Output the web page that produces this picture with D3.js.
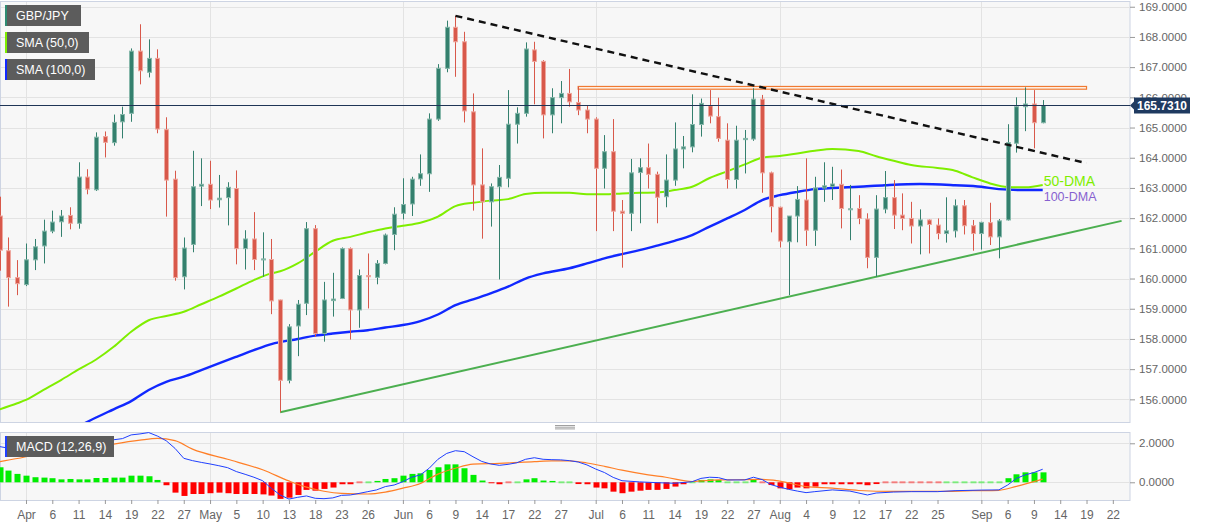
<!DOCTYPE html>
<html><head><meta charset="utf-8">
<script src="https://cdn.jsdelivr.net/npm/d3@7/dist/d3.min.js"></script>
<style>
html,body{margin:0;padding:0;background:#fff;}
svg{display:block;font-family:"Liberation Sans",Arial,sans-serif;}
</style></head><body>
<svg id="chart" width="1207" height="526"></svg>
<script>
// ---------------- DATA ----------------
const symbol = "GBP/JPY";
const firstCandle = "03-29";          // 2022
// daily OHLC from 2022-03-29 to 2022-09-12 (trading days)
const opens = [162.07,160.92,160.03,159.80,160.62,161.08,161.57,161.88,162.09,161.83,163.36,162.94,164.70,164.50,165.19,165.47,167.53,166.83,167.29,164.93,163.29,160.06,161.13,163.06,163.12,162.61,162.68,162.98,160.99,161.31,160.62,160.63,159.29,156.63,158.43,159.18,161.65,158.18,159.27,159.34,160.99,158.96,160.10,160.04,160.50,161.46,162.16,162.47,163.30,163.47,165.28,166.96,168.32,167.84,165.52,163.10,162.54,163.04,163.32,165.11,165.47,167.57,167.19,165.42,165.99,166.13,165.83,165.58,165.28,163.65,164.20,162.23,162.16,163.51,163.67,163.45,162.71,163.26,164.29,164.36,165.10,165.72,165.36,164.58,163.28,164.60,164.62,165.94,163.50,162.36,161.22,162.07,162.60,161.60,163.00,163.05,163.12,162.30,162.32,161.97,160.70,162.30,162.68,162.10,161.99,161.74,161.94,161.77,161.49,161.58,162.41,161.75,161.49,161.85,161.38,161.94,164.48,165.69,165.78,165.16];
const highs = [162.71,161.36,160.61,161.16,161.31,161.95,162.25,162.27,162.36,163.85,163.62,164.84,164.87,165.43,165.69,167.62,168.42,167.92,167.59,165.34,163.57,161.36,164.23,163.98,163.90,163.43,163.19,163.58,161.60,162.20,161.53,161.31,159.30,158.49,159.29,161.87,161.77,159.89,160.19,161.03,161.03,160.30,160.83,160.61,161.49,162.36,163.32,163.37,164.11,165.47,167.10,168.54,168.70,168.17,166.13,164.31,163.15,163.76,166.24,165.67,167.82,167.84,167.23,166.30,166.54,166.94,166.35,165.74,165.34,164.75,165.28,162.60,163.96,163.98,164.47,163.54,164.11,165.17,164.72,166.10,165.96,166.24,165.99,165.14,165.06,164.92,166.30,166.08,163.54,162.38,162.07,163.06,163.98,163.37,163.85,163.70,163.61,163.10,162.76,162.16,162.76,163.56,163.26,162.82,162.54,162.29,161.96,161.99,162.69,162.62,162.60,161.94,161.88,162.51,161.97,165.11,166.00,166.33,166.24,165.91];
const lows = [160.26,159.07,159.45,159.75,160.28,160.50,161.50,161.38,161.63,161.65,162.79,162.90,164.01,164.40,164.64,165.19,166.43,166.66,164.81,162.05,159.93,159.64,160.87,162.40,162.30,162.35,161.76,160.47,160.30,160.28,160.06,158.82,155.57,156.53,157.43,158.79,158.07,157.91,158.74,159.32,157.98,158.37,159.01,159.81,160.47,160.94,161.96,162.07,163.07,162.87,165.22,166.83,166.68,165.17,162.25,161.32,161.72,159.97,163.02,164.47,165.36,165.77,164.64,164.81,165.14,165.69,165.41,164.81,161.57,162.98,161.57,160.36,161.57,161.83,162.98,161.83,162.36,163.07,163.65,164.18,164.70,165.14,164.53,162.98,162.98,163.48,164.56,162.84,161.53,161.03,159.45,161.20,161.08,161.08,162.54,162.60,161.66,161.27,161.80,160.34,160.06,162.16,161.64,161.60,161.16,160.80,160.83,161.30,161.19,161.36,161.46,160.92,160.96,161.11,160.67,161.92,164.17,164.88,164.31,165.14];
const closes = [160.94,160.03,159.83,160.62,161.05,161.57,161.87,162.07,161.83,163.36,162.96,164.68,164.51,165.17,165.43,167.53,166.88,167.29,164.95,163.26,160.03,161.01,163.04,163.12,162.60,162.66,163.02,160.99,161.31,160.63,160.65,159.26,156.63,158.40,159.15,161.65,158.18,159.29,159.32,160.99,158.96,160.10,160.06,160.50,161.44,162.13,162.45,163.29,163.47,165.28,166.96,168.32,167.84,165.55,163.10,162.54,163.04,163.35,165.11,165.47,167.60,167.19,165.42,165.99,166.13,165.85,165.58,165.28,163.65,164.20,162.23,162.16,163.50,163.67,163.45,162.69,163.26,164.29,164.36,165.10,165.80,165.38,164.64,163.28,164.58,164.64,165.94,163.50,162.38,161.24,162.07,162.62,161.60,163.00,163.07,163.13,162.32,162.31,161.99,160.70,162.30,162.68,162.10,161.99,161.74,161.94,161.79,161.49,161.58,162.41,161.75,161.49,161.86,161.38,161.91,164.50,165.69,165.78,165.16,165.73];
const lastPrice = 165.7310;

// moving averages (date, value)
const sma50Dates = ["03-29","03-31","04-01","04-05","04-07","04-11","04-13","04-15","04-19","04-21","04-25","04-27","04-29","05-03","05-05","05-09","05-11","05-12","05-16","05-18","05-20","05-24","05-26","05-30","06-01","06-03","06-07","06-09","06-13","06-15","06-17","06-21","06-23","06-28","06-30","07-04","07-06","07-08","07-12","07-14","07-18","07-20","07-22","07-26","07-28","08-01","08-03","08-05","08-09","08-12","08-16","08-18","08-22","08-25","08-29","08-31","09-02","09-06","09-08","09-12"];
const sma50Values = [155.67,155.87,155.98,156.31,156.64,156.99,157.32,157.74,158.24,158.62,158.76,158.90,159.15,159.40,159.67,159.95,160.17,160.24,160.50,160.89,161.25,161.38,161.53,161.66,161.75,161.85,162.05,162.40,162.51,162.58,162.63,162.80,162.84,162.84,162.79,162.79,162.82,162.84,162.85,162.93,163.04,163.33,163.55,163.78,164.00,164.06,164.14,164.23,164.29,164.22,164.05,163.90,163.76,163.66,163.57,163.35,163.15,163.03,163.02,163.10];
const sma100Dates = ["04-08","04-13","04-15","04-19","04-21","04-25","04-27","04-29","05-03","05-05","05-09","05-11","05-16","05-18","05-20","05-24","05-26","05-30","06-01","06-03","06-07","06-09","06-13","06-15","06-17","06-21","06-23","06-28","06-30","07-04","07-06","07-08","07-12","07-14","07-18","07-20","07-22","07-26","07-28","08-01","08-03","08-05","08-09","08-12","08-17","08-23","08-29","09-01","09-05","09-08","09-12"];
const sma100Values = [154.95,155.40,155.67,155.94,156.31,156.58,156.75,156.97,157.19,157.41,157.63,157.83,158.00,158.11,158.18,158.24,158.29,158.38,158.46,158.59,158.81,159.12,159.31,159.51,159.73,160.00,160.17,160.34,160.50,160.67,160.81,160.94,161.09,161.25,161.44,161.72,161.99,162.27,162.60,162.76,162.87,162.96,163.00,163.04,163.09,163.13,163.09,163.04,162.96,162.93,162.93];

// drawn studies
const supportLine = {from:["05-12",155.57], to:["09-23",161.91]};
const resistanceLine = {from:["06-09",168.70], to:["09-19",163.82]};
const resistanceZone = {from:"06-29", to:"09-19", top:166.36, bottom:166.27};

// MACD (12,26,9)
const macdHist = [0.77,0.60,0.43,0.34,0.26,0.24,0.21,0.15,0.17,0.15,0.15,0.22,0.22,0.24,0.24,0.34,0.34,0.31,0.12,-0.15,-0.53,-0.70,-0.60,-0.60,-0.56,-0.53,-0.56,-0.60,-0.60,-0.60,-0.62,-0.68,-0.85,-0.79,-0.65,-0.39,-0.43,-0.34,-0.27,-0.10,-0.10,-0.03,0.02,0.07,0.17,0.21,0.34,0.43,0.46,0.63,0.77,0.92,0.92,0.72,0.38,0.09,-0.05,-0.10,-0.03,0.00,0.15,0.21,0.09,0.07,0.03,0.01,-0.09,-0.10,-0.27,-0.31,-0.48,-0.56,-0.48,-0.43,-0.39,-0.39,-0.34,-0.22,-0.10,0.03,0.12,0.15,0.12,0.02,0.00,0.02,0.12,-0.02,-0.14,-0.31,-0.36,-0.27,-0.31,-0.22,-0.10,-0.10,-0.10,-0.10,-0.10,-0.15,-0.09,-0.03,-0.03,-0.03,-0.03,-0.02,-0.02,-0.01,0.02,0.03,0.03,0.03,0.03,0.03,0.02,0.21,0.41,0.51,0.51,0.51];
const macdDates = ["03-29","03-30","03-31","04-01","04-05","04-07","04-11","04-13","04-15","04-18","04-19","04-20","04-21","04-22","04-25","04-26","04-27","04-28","04-29","05-02","05-03","05-04","05-05","05-06","05-09","05-10","05-11","05-12","05-13","05-16","05-17","05-18","05-19","05-20","05-23","05-24","05-25","05-26","05-27","05-30","05-31","06-01","06-02","06-03","06-06","06-07","06-08","06-09","06-10","06-13","06-14","06-15","06-16","06-17","06-20","06-21","06-22","06-23","06-24","06-27","06-28","06-29","06-30","07-01","07-04","07-05","07-06","07-08","07-12","07-14","07-18","07-19","07-20","07-21","07-22","07-26","07-27","07-28","07-29","08-01","08-02","08-03","08-04","08-05","08-09","08-11","08-15","08-16","08-18","08-22","08-25","08-29","09-01","09-05","09-06","09-07","09-08","09-09","09-12"];
const macdValues = [1.83,1.75,1.65,1.64,1.74,1.75,1.81,2.02,2.18,2.24,2.43,2.48,2.55,2.37,2.13,1.74,1.23,1.11,1.02,0.94,0.85,0.75,0.55,0.41,0.26,0.08,-0.31,-0.65,-0.86,-0.77,-0.70,-0.82,-0.84,-0.80,-0.67,-0.65,-0.57,-0.48,-0.39,-0.22,-0.14,0.03,0.26,0.38,0.72,1.18,1.48,1.62,1.57,1.31,1.07,0.94,0.87,0.92,1.00,1.18,1.26,1.18,1.16,1.15,1.11,1.04,0.89,0.68,0.50,0.25,0.08,0.02,-0.02,-0.05,0.03,0.20,0.26,0.24,0.12,0.12,0.26,0.14,-0.12,-0.25,-0.36,-0.45,-0.53,-0.48,-0.39,-0.45,-0.65,-0.55,-0.50,-0.48,-0.48,-0.43,-0.40,-0.39,-0.14,0.20,0.38,0.50,0.67];
const signalDates = ["03-29","03-31","04-04","04-07","04-11","04-13","04-15","04-20","04-22","04-26","04-28","05-04","05-10","05-13","05-17","05-19","05-23","05-26","05-30","06-01","06-03","06-07","06-09","06-13","06-16","06-22","06-24","06-28","06-30","07-04","07-06","07-11","07-13","07-18","07-21","07-25","07-28","08-01","08-04","08-09","08-12","08-18","08-25","08-31","09-05","09-07","09-12"];
const signalValues = [1.06,1.22,1.40,1.58,1.66,1.80,1.96,2.16,2.25,2.14,1.70,1.18,0.64,0.07,-0.25,-0.46,-0.57,-0.60,-0.50,-0.30,-0.06,0.42,0.72,0.93,0.97,1.06,1.10,1.10,0.99,0.82,0.62,0.38,0.26,0.04,0.12,0.13,0.15,0.06,-0.22,-0.30,-0.42,-0.47,-0.47,-0.43,-0.41,-0.21,0.16];

// axes
const priceTicks = [156,157,158,159,160,161,162,163,164,165,166,167,168,169];
const macdTicks = [0,2];
const tickDates = ["04-01","04-06","04-11","04-14","04-19","04-22","04-27","05-02","05-05","05-10","05-13","05-18","05-23","05-26","06-01","06-06","06-09","06-14","06-17","06-22","06-27","07-01","07-06","07-11","07-14","07-19","07-22","07-27","08-01","08-04","08-09","08-12","08-17","08-22","08-25","09-01","09-06","09-09","09-14","09-19","09-22"];
const tickLabels = ["Apr","6","11","14","19","22","27","May","5","10","13","18","23","26","Jun","6","9","14","17","22","27","Jul","6","11","14","19","22","27","Aug","4","9","12","17","22","25","Sep","6","9","14","19","22"];
const monthStarts = ["04-01","05-02","06-01","07-01","08-01","09-01"];

// ---------------- CHART ----------------
const svg = d3.select("#chart");
const W = 1130;
const P = {top:1, bottom:422};
const M = {top:432, bottom:500};

// trading-day calendar
const days = d3.timeDay.range(new Date(2022,2,29), new Date(2022,8,24))
  .filter(d => d.getDay() !== 0 && d.getDay() !== 6);
const keyFmt = d3.timeFormat("%m-%d");
const dayKeys = days.map(keyFmt);
const di = k => dayKeys.indexOf(k);
const start = di(firstCandle);

const x = d3.scaleLinear().domain([0.034, 128.96]).range([0, W]);
const yP = d3.scaleLinear().domain([155.25, 169.19]).range([P.bottom, P.top]);
const yM = d3.scaleLinear().domain([-0.908, 2.579]).range([M.bottom, M.top]);

const defs = svg.append("defs");
defs.append("clipPath").attr("id","clipP").append("rect").attr("x",0).attr("y",P.top).attr("width",W).attr("height",P.bottom-P.top);
defs.append("clipPath").attr("id","clipM").append("rect").attr("x",0).attr("y",M.top).attr("width",W).attr("height",M.bottom-M.top);

// pane backgrounds
[P, M].forEach(p => {
  svg.append("rect").attr("x",0.5).attr("y",p.top+0.5).attr("width",W-0.5).attr("height",p.bottom-p.top)
    .attr("fill","#f7f7f7").attr("stroke","#cdd4e3").attr("stroke-width",1);
});

// grids
const grid = svg.append("g");
grid.selectAll(".hp").data(priceTicks).join("line")
  .attr("x1",1).attr("x2",W).attr("y1",d=>Math.round(yP(d))+0.5).attr("y2",d=>Math.round(yP(d))+0.5)
  .attr("stroke","#e3e3e3");
grid.selectAll(".hm").data(macdTicks).join("line")
  .attr("x1",1).attr("x2",W).attr("y1",d=>Math.round(yM(d))+0.5).attr("y2",d=>Math.round(yM(d))+0.5)
  .attr("stroke","#e3e3e3");
monthStarts.forEach(k => {
  const xx = Math.round(x(di(k)))+0.5;
  grid.append("line").attr("x1",xx).attr("x2",xx).attr("y1",P.top+1).attr("y2",P.bottom).attr("stroke","#e3e3e3");
  grid.append("line").attr("x1",xx).attr("x2",xx).attr("y1",M.top+1).attr("y2",M.bottom).attr("stroke","#e3e3e3");
});

// price pane content
const gp = svg.append("g").attr("clip-path","url(#clipP)");

// resistance zone
gp.append("rect")
  .attr("x", x(di(resistanceZone.from))).attr("width", x(di(resistanceZone.to)) - x(di(resistanceZone.from)))
  .attr("y", yP(resistanceZone.top)).attr("height", yP(resistanceZone.bottom)-yP(resistanceZone.top))
  .attr("fill","#fff6ee").attr("stroke","#f07a32").attr("stroke-width",1.2);

// support trendline
gp.append("line")
  .attr("x1",x(di(supportLine.from[0]))).attr("y1",yP(supportLine.from[1]))
  .attr("x2",x(di(supportLine.to[0]))).attr("y2",yP(supportLine.to[1]))
  .attr("stroke","#4caf50").attr("stroke-width",2);

// SMAs
const lineGen = d3.line().x(d=>x(di(d[0]))).y(d=>yP(d[1])).curve(d3.curveMonotoneX);
gp.append("path").datum(sma100Dates.map((k,i)=>[k,sma100Values[i]])).attr("d",lineGen)
  .attr("fill","none").attr("stroke","#1128ff").attr("stroke-width",2.4);
gp.append("path").datum(sma50Dates.map((k,i)=>[k,sma50Values[i]])).attr("d",lineGen)
  .attr("fill","none").attr("stroke","#7fee00").attr("stroke-width",2);

// candles
const up = "#34806e", dn = "#d8584a";
const candles = opens.map((o,i)=>({k:dayKeys[start+i], o, h:highs[i], l:lows[i], c:closes[i]}));
const cg = gp.append("g");
const cx = d => Math.round(x(di(d.k)));
cg.selectAll(".wick").data(candles).join("line")
  .attr("x1",d=>cx(d)+0.5).attr("x2",d=>cx(d)+0.5)
  .attr("y1",d=>yP(d.h)).attr("y2",d=>yP(d.l))
  .attr("stroke",d=>d.c>=d.o?up:dn).attr("stroke-width",1);
cg.selectAll(".body").data(candles).join("rect")
  .attr("x",d=>cx(d)-1.5).attr("width",4)
  .attr("y",d=>yP(Math.max(d.o,d.c)))
  .attr("height",d=>Math.max(1, Math.abs(yP(d.o)-yP(d.c))))
  .attr("fill",d=>d.c>=d.o?up:dn)
  .attr("stroke",d=>d.c>=d.o?"#86b7aa":"#eea79e").attr("stroke-width",1);

// descending dashed trendline
gp.append("line")
  .attr("x1",x(di(resistanceLine.from[0]))).attr("y1",yP(resistanceLine.from[1]))
  .attr("x2",x(di(resistanceLine.to[0]))).attr("y2",yP(resistanceLine.to[1]))
  .attr("stroke","#111").attr("stroke-width",2.4).attr("stroke-dasharray","7,5");

// current price line
const lpY = Math.round(yP(lastPrice))+0.5;
svg.append("line").attr("x1",0).attr("x2",W).attr("y1",lpY).attr("y2",lpY).attr("stroke","#1f3556").attr("stroke-width",1);

// DMA labels
const lastK = dayKeys[start+opens.length-1];
svg.append("text").attr("x",x(di(lastK))+1).attr("y",yP(sma50Values[sma50Values.length-1])+1)
  .attr("font-size",14).attr("fill","#7fee00").text("50-DMA");
svg.append("text").attr("x",x(di(lastK))+1).attr("y",yP(sma100Values[sma100Values.length-1])+11)
  .attr("font-size",12.5).attr("fill","#8761d0").text("100-DMA");

// price axis
const ax = svg.append("g").attr("transform",`translate(${W},0)`)
  .call(d3.axisRight(yP).tickValues(priceTicks).tickFormat(d3.format(".4f")).tickSize(5).tickPadding(4));
ax.select(".domain").remove();
ax.selectAll("line").attr("stroke","#999");
ax.selectAll("text").attr("fill","#666").attr("font-size",11.5).attr("font-family","Liberation Sans, Arial, sans-serif");

// last price tag
const tag = svg.append("g").attr("transform",`translate(${W+3},${lpY})`);
tag.append("path").attr("d","M-3,0 L1,-4 L1,4 Z").attr("fill","#1f3a60");
tag.append("rect").attr("x",1).attr("y",-8).attr("width",56).attr("height",16).attr("fill","#1f3a60");
tag.append("text").attr("x",29).attr("y",4.5).attr("text-anchor","middle").attr("fill","#fff")
  .attr("font-size",12).attr("font-weight","bold").text(d3.format(".4f")(lastPrice));

// MACD pane
const gm = svg.append("g").attr("clip-path","url(#clipM)");
const histData = macdHist.map((v,i)=>({k:dayKeys[start+i], v}));
gm.selectAll(".hb").data(histData).join("rect")
  .attr("x",d=>Math.round(x(di(d.k)))-2.5).attr("width",6)
  .attr("y",d=> Math.abs(d.v)<0.04 ? yM(0)-1 : (d.v>=0?yM(d.v):yM(0)))
  .attr("height",d=> Math.abs(d.v)<0.04 ? 2 : Math.abs(yM(d.v)-yM(0)))
  .attr("fill",d=>d.v>=0?"#00ee00":"#ff0000")
  .attr("opacity",d=>Math.abs(d.v)<0.04?0.45:1);
const mLine = d3.line().x(d=>x(di(d[0]))).y(d=>yM(d[1]));
gm.append("path").datum(signalDates.map((k,i)=>[k,signalValues[i]])).attr("d",mLine.curve(d3.curveMonotoneX))
  .attr("fill","none").attr("stroke","#ff7f27").attr("stroke-width",1.2);
gm.append("path").datum(macdDates.map((k,i)=>[k,macdValues[i]])).attr("d",d3.line().x(d=>x(di(d[0]))).y(d=>yM(d[1])))
  .attr("fill","none").attr("stroke","#1f3fff").attr("stroke-width",1);

const axm = svg.append("g").attr("transform",`translate(${W},0)`)
  .call(d3.axisRight(yM).tickValues(macdTicks).tickFormat(d3.format(".4f")).tickSize(5).tickPadding(4));
axm.select(".domain").remove();
axm.selectAll("line").attr("stroke","#999");
axm.selectAll("text").attr("fill","#666").attr("font-size",11.5).attr("font-family","Liberation Sans, Arial, sans-serif");

// date axis
const axb = svg.append("g").attr("transform",`translate(0,${M.bottom})`)
  .call(d3.axisBottom(x).tickValues(tickDates.map(di)).tickFormat((d,i)=>tickLabels[i]).tickSize(4).tickPadding(6));
axb.select(".domain").remove();
axb.selectAll("line").attr("stroke","#999");
axb.selectAll("text").attr("fill","#666").attr("font-size",12).attr("font-family","Liberation Sans, Arial, sans-serif");

// pane splitter handle
[0,1.7,3.4].forEach(o => svg.append("line").attr("x1",555).attr("x2",575).attr("y1",425.5+o).attr("y2",425.5+o).attr("stroke","#888").attr("stroke-width",0.8));

// legend boxes
function legend(y, w, color, text){
  svg.append("rect").attr("x",5).attr("y",y).attr("width",w).attr("height",21).attr("fill","#5c5c5c");
  svg.append("rect").attr("x",5).attr("y",y).attr("width",2).attr("height",21).attr("fill",color);
  svg.append("text").attr("x",16).attr("y",y+15).attr("fill","#fff").attr("font-size",12.5).text(text);
}
legend(5, 76, "#2e8b72", symbol);
legend(32, 84, "#7fee00", "SMA (50,0)");
legend(59, 90, "#1128ff", "SMA (100,0)");
legend(436, 109, "#1f3fff", "MACD (12,26,9)");
</script>
</body></html>
